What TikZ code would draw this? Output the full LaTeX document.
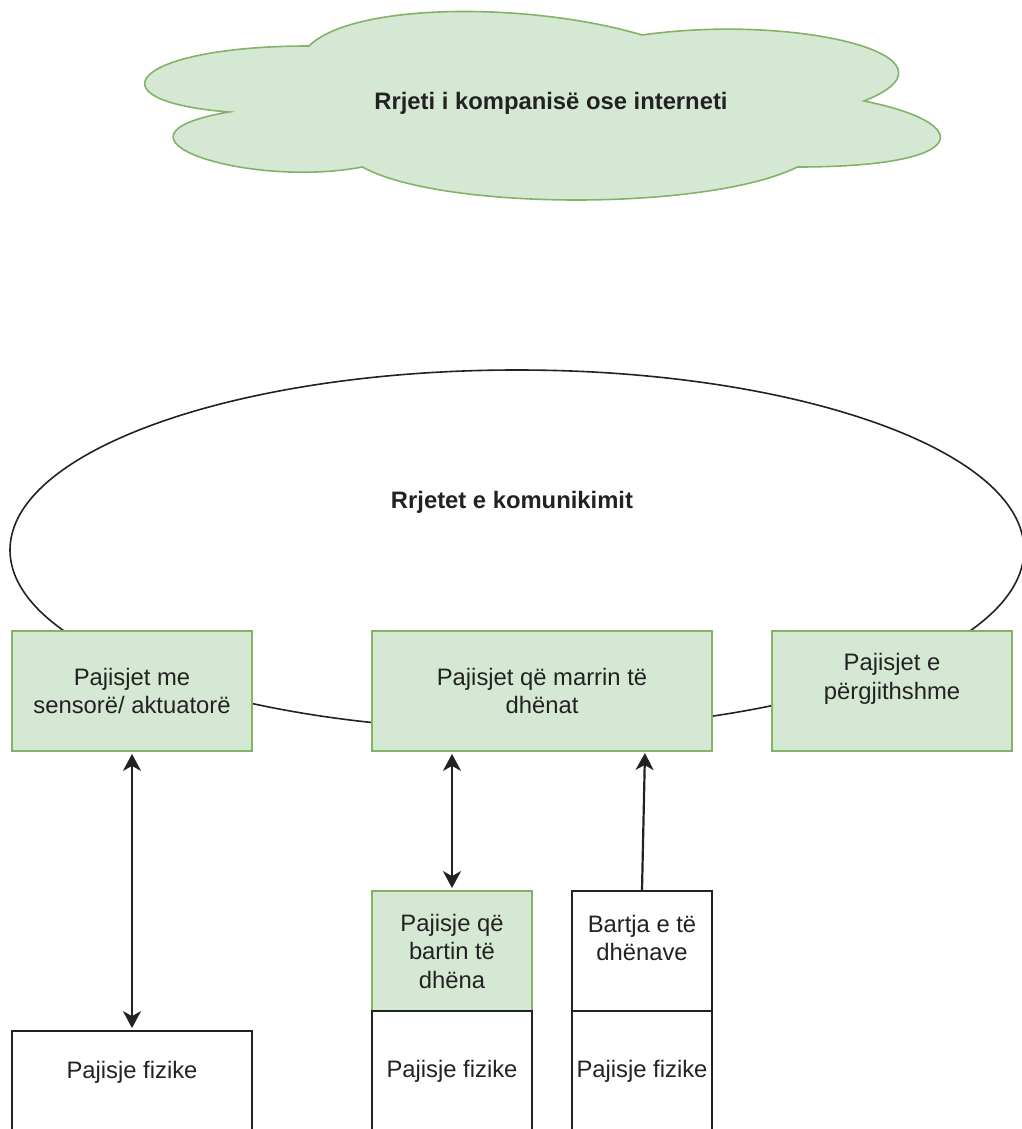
\documentclass[tikz,border=0pt]{standalone}
\usepackage{fontspec}
\setmainfont{Liberation Sans}
\usetikzlibrary{arrows.meta,shapes.geometric,calc}
\definecolor{gfill}{HTML}{D5E8D4}
\definecolor{gline}{HTML}{82B366}
\definecolor{ink}{HTML}{222222}
\tikzset{bigtip/.tip={Stealth[length=17pt,width=18pt,inset=5pt]}}
\begin{document}
\begin{tikzpicture}[x=1pt,y=-1pt,
  txt/.style={font=\fontsize{23.8}{28.5}\selectfont, text=ink, align=center, inner sep=0pt},
  btxt/.style={font=\fontsize{23.8}{28.5}\selectfont\bfseries, text=ink, align=center, inner sep=0pt},
  gbox/.style={rectangle, draw=gline, fill=gfill, line width=1.8pt, inner sep=0pt, txt},
  wbox/.style={rectangle, draw=ink, fill=white, line width=1.8pt, inner sep=0pt, txt},
  conn/.style={draw=ink, line width=2.2pt},
  dblarrow/.style={conn, bigtip-bigtip, shorten <=2pt, shorten >=2pt},
  onearrow/.style={conn, -bigtip, shorten >=2pt}
]
\useasboundingbox (0,0) rectangle (1021,1129);

% cloud
\path[draw=gline, fill=gfill, line width=1.6pt]
  (309,46) .. controls (131.4,46) and (87,101) .. (229.1,112)
  .. controls (87,136.2) and (246.8,189) .. (362.3,167)
  .. controls (442.2,211) and (708.6,211) .. (797.4,167)
  .. controls (975,167) and (975,123) .. (864,101)
  .. controls (975,57) and (797.4,13) .. (642,35)
  .. controls (531,2) and (353.4,2) .. (309,46) -- cycle;
\node[btxt] (cloud) at (551,103) {Rrjeti i kompanisë ose interneti};

% communication network ellipse
\node[ellipse, draw=ink, line width=1.6pt, minimum width=1014pt, minimum height=360pt, inner sep=0pt] (net) at (517,550) {};
\node[btxt] (nettext) at (512,502) {Rrjetet e komunikimit};

% top row boxes
\node[gbox, minimum width=240pt, minimum height=120pt] (A) at (132,691) {Pajisjet me\\sensorë/ aktuatorë};
\node[gbox, minimum width=340pt, minimum height=120pt] (B) at (542,691) {Pajisjet që marrin të\\dhënat};
\node[gbox, minimum width=240pt, minimum height=120pt] (C) at (892,691) {};
\node[txt] (Ct) at (892,679) {Pajisjet e\\përgjithshme};

% lower boxes
\node[gbox, minimum width=160pt, minimum height=120pt] (bartin) at (452,951) {Pajisje që\\bartin të\\dhëna};
\node[wbox, minimum width=140pt, minimum height=120pt] (bartja) at (642,951) {};
\node[txt] (bartjat) at (642,938) {Bartja e të\\dhënave};

\node[wbox, minimum width=240pt, minimum height=120pt] (pf1) at (132,1091) {};
\node[txt] (pf1t) at (132,1072) {Pajisje fizike};
\node[wbox, minimum width=160pt, minimum height=120pt] (pf2) at (452,1071) {Pajisje fizike};
\node[wbox, minimum width=140pt, minimum height=120pt] (pf3) at (642,1071) {Pajisje fizike};

% connectors
\draw[dblarrow] (A.south) -- (pf1.north);
\draw[dblarrow] (bartin.north) -- (bartin.north |- B.south);
\coordinate (cT) at (645,751);
\draw[onearrow] (bartja.north) -- (cT);
\end{tikzpicture}
\end{document}
